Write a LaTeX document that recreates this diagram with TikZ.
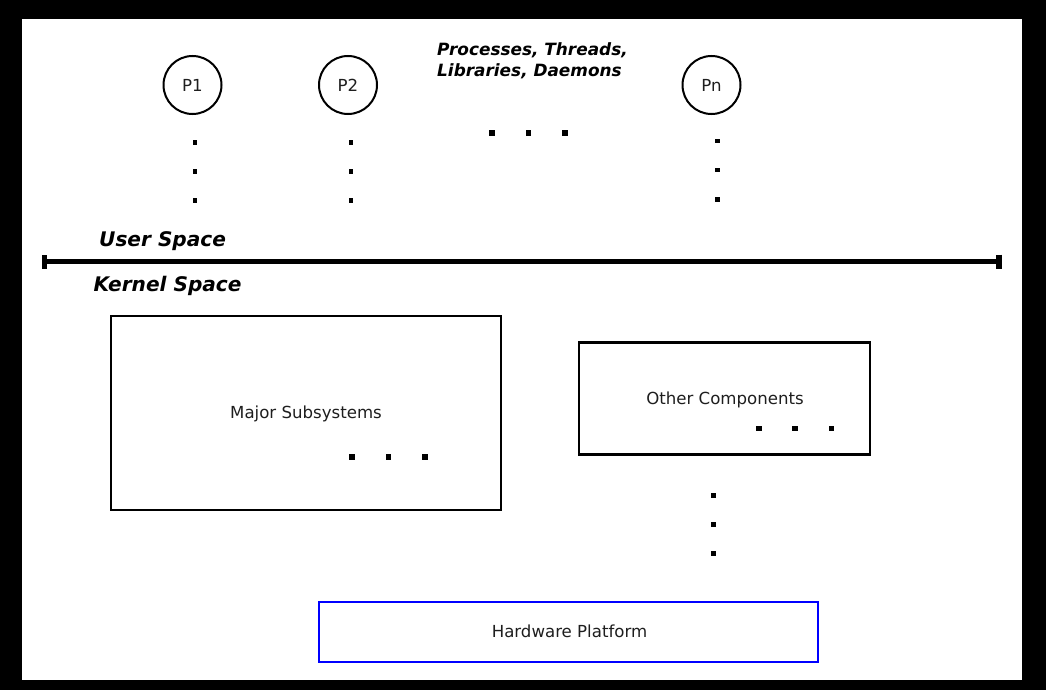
\documentclass[tikz,border=0pt]{standalone}
\usepackage{fontspec}
\setmainfont{DejaVu Sans}
\usetikzlibrary{arrows.meta}
\definecolor{txt}{HTML}{1E1E1E}
\definecolor{hwblue}{HTML}{0000FF}
\tikzset{
  proc/.style={circle, draw=black, line width=2pt, minimum size=58pt, inner sep=0pt,
    text=txt, font=\fontsize{16.6}{20}\selectfont},
  blockbox/.style={draw=black, line width=2.5pt, inner sep=0pt},
  hwbox/.style={draw=hwblue, line width=2.5pt, inner sep=0pt},
  plainlbl/.style={inner sep=0pt, text=txt, font=\fontsize{16.6}{20}\selectfont},
  spacelbl/.style={inner sep=0pt, anchor=base west, text=black, font=\fontsize{20.1}{24}\bfseries\itshape},
  biglbl/.style={inner sep=0pt, text=black, font=\fontsize{16.9}{21}\bfseries\itshape},
  hdot/.style={rectangle, fill=black, minimum size=5.5pt, inner sep=0pt},
  vdot/.style={rectangle, fill=black, minimum size=4.3pt, inner sep=0pt},
}
\begin{document}
\begin{tikzpicture}[x=1pt, y=-1pt]
\useasboundingbox (0,0) rectangle (1046,690);
\fill[black] (0,0) rectangle (1046,690);
\fill[white] (22,19) rectangle (1022,680);

% processes
\node[proc] (P1) at (192.5,85) {P1};
\node[proc] (P2) at (348,85) {P2};
\node[proc] (Pn) at (711.5,85) {Pn};

\node[biglbl, anchor=north west, align=left] (procs) at (437,42.5) {Processes, Threads,\\Libraries, Daemons};

% dots in user space
\foreach \y [count=\i] in {142.5,171.5,200.5} {
  \node[vdot] (d1\i) at (195,\y) {};
  \node[vdot] (d2\i) at (351,\y) {};
}
\foreach \y [count=\i] in {141,170,199.5} {
  \node[vdot] (dn\i) at (717.5,\y) {};
}
\foreach \x [count=\i] in {492,528.5,565} {
  \node[hdot] (dt\i) at (\x,133) {};
}

% user/kernel divider
\node[spacelbl] (user) at (99,246.5) {User Space};
\node[spacelbl] (kernel) at (93.5,291.5) {Kernel Space};
\coordinate (divL) at (41.7,261.5);
\coordinate (divR) at (1001.5,261.5);
\draw[line width=4.7pt, {Bar[width=14pt,line width=5.5pt]}-{Bar[width=14pt,line width=5.5pt]}] (divL) -- (divR);

% kernel blocks
\node[blockbox, minimum width=390pt, minimum height=194pt] (major) at (306,413) {};
\node[plainlbl, anchor=base] (majorlbl) at (306,418) {Major Subsystems};
\foreach \x [count=\i] in {352,388.5,425} {
  \node[hdot] (dm\i) at (\x,457) {};
}

\node[blockbox, minimum width=291pt, minimum height=112pt] (other) at (724.5,398.5) {};
\node[plainlbl, anchor=base] (otherlbl) at (725,404) {Other Components};
\foreach \x [count=\i] in {759,795,831.5} {
  \node[hdot] (do\i) at (\x,428.5) {};
}
\foreach \y [count=\i] in {495.5,524.5,553.5} {
  \node[vdot] (dv\i) at (713.5,\y) {};
}

\node[hwbox, minimum width=499pt, minimum height=60pt] (hw) at (568.5,632) {};
\node[plainlbl, anchor=base] (hwlbl) at (569.5,637.5) {Hardware Platform};
\end{tikzpicture}
\end{document}
